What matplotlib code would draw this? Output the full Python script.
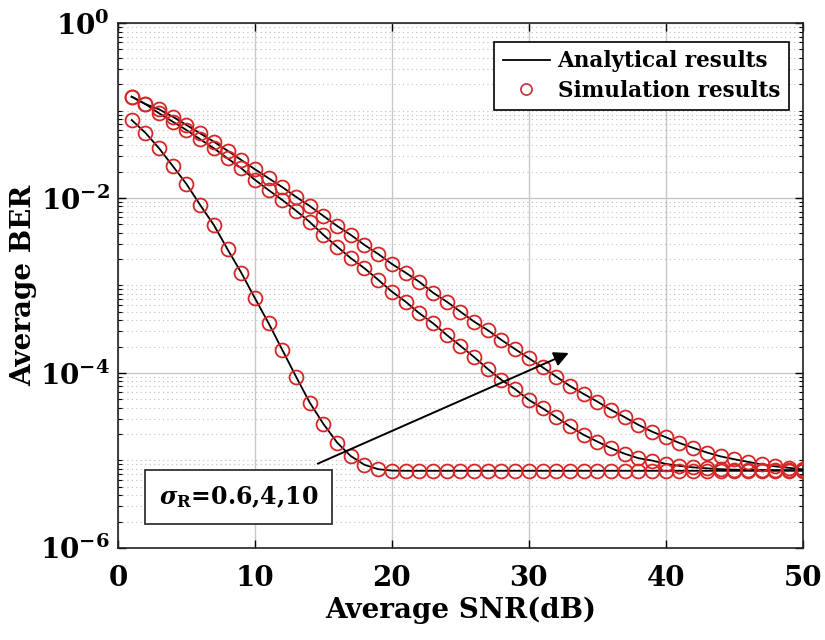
import numpy as np
import matplotlib
matplotlib.use("Agg")
import matplotlib.pyplot as plt
from matplotlib.ticker import FixedLocator, LogLocator, NullFormatter

plt.rcParams["font.family"] = "DejaVu Serif"
plt.rcParams["font.weight"] = "bold"
plt.rcParams["mathtext.fontset"] = "dejavuserif"

snr = np.arange(1, 51)

# sigma_R = 0.6
ber_06 = [0.0778, 0.0557, 0.0370, 0.0232, 0.01445, 8.32e-3, 4.91e-3, 2.59e-3, 1.40e-3, 7.14e-4,
          3.70e-4, 1.83e-4, 9.08e-5, 4.58e-5, 2.61e-5, 1.60e-5, 1.12e-5, 8.89e-6, 7.93e-6, 7.64e-6,
          7.6e-6, 7.6e-6, 7.6e-6, 7.6e-6, 7.6e-6, 7.6e-6, 7.6e-6, 7.6e-6, 7.6e-6, 7.6e-6,
          7.6e-6, 7.6e-6, 7.6e-6, 7.6e-6, 7.6e-6, 7.6e-6, 7.6e-6, 7.6e-6, 7.6e-6, 7.6e-6,
          7.6e-6, 7.6e-6, 7.6e-6, 7.6e-6, 7.6e-6, 7.6e-6, 7.6e-6, 7.6e-6, 7.6e-6, 7.6e-6]

# sigma_R = 4
ber_4 = [0.1438, 0.1186, 0.0929, 0.0745, 0.0598, 0.0469, 0.0370, 0.0284, 0.0219, 0.0161,
         0.0123, 9.49e-3, 7.16e-3, 5.32e-3, 3.78e-3, 2.78e-3, 2.05e-3, 1.57e-3, 1.16e-3, 8.50e-4,
         6.53e-4, 4.81e-4, 3.70e-4, 2.72e-4, 2.04e-4, 1.52e-4, 1.11e-4, 8.32e-5, 6.52e-5, 4.91e-5,
         3.95e-5, 3.12e-5, 2.44e-5, 1.96e-5, 1.64e-5, 1.38e-5, 1.19e-5, 1.06e-5, 9.95e-6, 9.12e-6,
         8.65e-6, 8.32e-6, 8.11e-6, 7.93e-6, 7.83e-6, 7.78e-6, 7.76e-6, 7.75e-6, 7.74e-6, 7.74e-6]

# sigma_R = 10
ber_10 = [0.1438, 0.1186, 0.1032, 0.0849, 0.0683, 0.0548, 0.0440, 0.0347, 0.0272, 0.0213,
          0.0168, 0.0133, 0.0103, 8.10e-3, 6.23e-3, 4.79e-3, 3.78e-3, 2.90e-3, 2.29e-3, 1.76e-3,
          1.40e-3, 1.10e-3, 8.28e-4, 6.53e-4, 5.02e-4, 3.86e-4, 3.08e-4, 2.38e-4, 1.87e-4, 1.47e-4,
          1.16e-4, 9.08e-5, 7.10e-5, 5.75e-5, 4.70e-5, 3.78e-5, 3.12e-5, 2.55e-5, 2.13e-5, 1.84e-5,
          1.58e-5, 1.39e-5, 1.23e-5, 1.11e-5, 1.03e-5, 9.62e-6, 9.00e-6, 8.54e-6, 8.21e-6, 7.89e-6]

xticks = [0, 10, 20, 30, 40, 50]
yticks = [1e-6, 1e-4, 1e-2, 1e0]
ytick_labels = [r"$\mathbf{10^{-6}}$", r"$\mathbf{10^{-4}}$", r"$\mathbf{10^{-2}}$", r"$\mathbf{10^{0}}$"]

fig = plt.figure(figsize=(8.25, 6.4), dpi=100)
ax = fig.add_axes([0.143, 0.144, 0.830, 0.820])

for ber in [ber_06, ber_4, ber_10]:
    ax.semilogy(snr, ber, c="black", lw=1.3, zorder=3)
    ax.semilogy(snr, ber, ls="none", marker="o", ms=10, mfc="none", mec="#d62728",
                mew=1.3, zorder=4)

# legend proxies
ax.plot([], [], c="black", lw=1.3, label="Analytical results")
ax.plot([], [], ls="none", marker="o", ms=8, mfc="none", mec="#c0303a", mew=1.2,
        label="Simulation results")
leg = ax.legend(loc="upper right", bbox_to_anchor=(0.995, 0.985), fontsize=15.5,
                frameon=True, fancybox=False, edgecolor="black", framealpha=1,
                handlelength=2.2, handletextpad=0.35, borderpad=0.4, labelspacing=0.35)
leg.get_frame().set_linewidth(1.2)

ax.set_xlim(0, 50)
ax.set_ylim(1e-6, 1)
ax.xaxis.set_major_locator(FixedLocator(xticks))
ax.set_yticks(yticks)
ax.set_yticklabels(ytick_labels)
ax.yaxis.set_minor_locator(LogLocator(base=10, subs=np.arange(1, 10) * 1.0, numticks=100))
ax.yaxis.set_minor_formatter(NullFormatter())

ax.grid(which="major", color="#c8c8c8", ls="-", lw=1.0)
ax.grid(which="minor", axis="y", color="#bdbdbd", ls=(0, (1, 3)), lw=0.8)
ax.set_axisbelow(True)

ax.tick_params(which="both", direction="in", top=True, right=True, labelsize=20)
ax.tick_params(which="major", length=6, width=1.0)
ax.tick_params(which="minor", length=3, width=0.8)
ax.tick_params(axis="x", which="major", pad=12)
ax.tick_params(axis="y", which="major", pad=6)
for sp in ax.spines.values():
    sp.set_linewidth(1.2)
    sp.set_color("#222222")

ax.set_xlabel("Average SNR(dB)", fontsize=20, fontweight="bold", labelpad=4)
ax.set_ylabel("Average BER", fontsize=20, fontweight="bold")
ax.yaxis.set_label_coords(-0.118, 0.5)

ax.annotate("", xy=(33.1, 1.74e-4), xytext=(14.4, 8.9e-6),
            arrowprops=dict(arrowstyle="-|>", color="black", lw=1.4, mutation_scale=22),
            zorder=5)
ax.text(8.8, 10 ** -5.42, r"$\sigma_\mathbf{R}$=0.6,4,10", fontsize=17, fontweight="bold",
        ha="center", va="center", zorder=6,
        bbox=dict(boxstyle="square,pad=0.6", facecolor="white", edgecolor="#333333", lw=1.3))

fig.savefig("out.png", dpi=100)
